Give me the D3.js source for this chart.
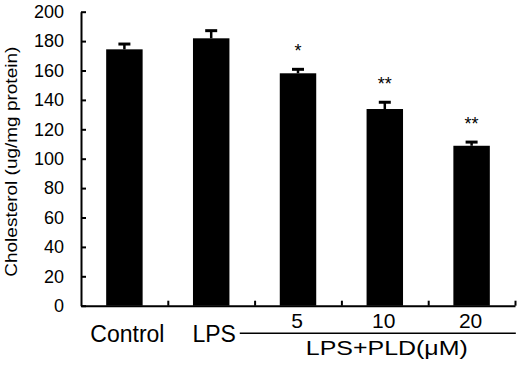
<!DOCTYPE html>
<html>
<head>
<meta charset="utf-8">
<script src="https://cdn.jsdelivr.net/npm/d3@7"></script>
<style>
  body { margin: 0; background: #fff; }
  text { font-family: Arial, "Liberation Sans", sans-serif; fill: #000; }
</style>
</head>
<body>
<div id="chart"></div>
<script>
// Data
var groups = ["Control", "LPS", "5", "10", "20"];
var values = [174.4, 181.9, 158.1, 133.8, 108.8];
var errors = [3.6, 5.2, 2.7, 4.6, 2.5];
var stars = ["", "", "*", "**", "**"];
var yTicks = [0, 20, 40, 60, 80, 100, 120, 140, 160, 180, 200];

function init() {
    var W = 517, H = 365;
    var margin = { top: 11.7, left: 81, right: 2, bottom: 59.3 };
    var w = W - margin.left - margin.right;
    var h = H - margin.top - margin.bottom;

    var svg = d3.select("#chart")
                .append("svg")
                .attr("width", W)
                .attr("height", H)
                .append("g")
                .attr("transform", "translate(" + margin.left + "," + margin.top + ")");

    var xScale = d3.scaleBand()
                   .domain(groups)
                   .range([0, w])
                   .paddingInner(0.58)
                   .paddingOuter(0.29);
    var yScale = d3.scaleLinear().domain([0, 200]).range([h, 0]);

    // bars
    svg.selectAll(".bar")
       .data(groups)
       .enter().append("rect")
       .attr("class", "bar")
       .attr("x", function(d) { return xScale(d); })
       .attr("width", xScale.bandwidth())
       .attr("y", function(d, i) { return yScale(values[i]); })
       .attr("height", function(d, i) { return h - yScale(values[i]); })
       .style("fill", "#000");

    // error bars (upper only)
    var cx = function(d) { return xScale(d) + xScale.bandwidth() / 2; };
    svg.selectAll(".err")
       .data(groups)
       .enter().append("line")
       .attr("x1", cx).attr("x2", cx)
       .attr("y1", function(d, i) { return yScale(values[i]); })
       .attr("y2", function(d, i) { return yScale(values[i] + errors[i]); })
       .style("stroke", "#000")
       .style("stroke-width", 2.5);
    svg.selectAll(".cap")
       .data(groups)
       .enter().append("line")
       .attr("x1", function(d) { return cx(d) - 6; })
       .attr("x2", function(d) { return cx(d) + 6; })
       .attr("y1", function(d, i) { return yScale(values[i] + errors[i]); })
       .attr("y2", function(d, i) { return yScale(values[i] + errors[i]); })
       .style("stroke", "#000")
       .style("stroke-width", 3);

    // significance stars
    svg.selectAll(".star")
       .data(groups)
       .enter().append("text")
       .attr("x", cx)
       .attr("y", function(d, i) { return yScale(values[i] + errors[i]) - 12; })
       .attr("text-anchor", "middle")
       .style("font-size", "18px")
       .text(function(d, i) { return stars[i]; });

    // y axis, inward ticks
    var yAxis = d3.axisLeft(yScale)
                  .tickValues(yTicks)
                  .tickSizeInner(-5)
                  .tickSizeOuter(0)
                  .tickPadding(17);
    var gy = svg.append("g").call(yAxis);
    gy.selectAll("text").style("font-size", "18px");

    // x axis: ticks at group boundaries
    var edge = d3.scaleLinear().domain([0, groups.length]).range([0, w]);
    var xAxis = d3.axisBottom(edge)
                  .tickValues(d3.range(1, groups.length + 1))
                  .tickSizeInner(-5)
                  .tickSizeOuter(0)
                  .tickFormat("");
    svg.append("g")
       .attr("transform", "translate(0," + h + ")")
       .call(xAxis);

    svg.selectAll(".domain, .tick line")
       .style("stroke", "#000")
       .style("stroke-width", 2);

    // group labels
    svg.selectAll(".xlab")
       .data(groups)
       .enter().append("text")
       .attr("x", function(d, i) { return cx(d) + (i < 2 ? 3 : -1); })
       .attr("y", function(d, i) { return i < 2 ? h + 36.6 : h + 22.6; })
       .attr("text-anchor", "middle")
       .style("font-size", function(d, i) { return i < 2 ? "23px" : "21px"; })
       .text(function(d) { return d; });

    // bracket for the dose groups
    svg.append("line")
       .attr("x1", xScale("5") - 40)
       .attr("x2", xScale("20") + xScale.bandwidth() + 26)
       .attr("y1", h + 27.6)
       .attr("y2", h + 27.6)
       .style("stroke", "#000")
       .style("stroke-width", 1.5);
    svg.append("text")
       .attr("x", cx("10") + 2)
       .attr("y", h + 49.3)
       .attr("text-anchor", "middle")
       .attr("textLength", 162)
       .attr("lengthAdjust", "spacingAndGlyphs")
       .style("font-size", "20px")
       .text("LPS+PLD(\u03bcM)");

    // y axis title
    svg.append("text")
       .attr("transform", "rotate(-90)")
       .attr("x", -(161.7 - margin.top))
       .attr("y", 17 - margin.left)
       .attr("text-anchor", "middle")
       .attr("textLength", 230)
       .attr("lengthAdjust", "spacingAndGlyphs")
       .style("font-size", "16px")
       .text("Cholesterol (ug/mg protein)");
}

window.onload = init;
</script>
</body>
</html>
